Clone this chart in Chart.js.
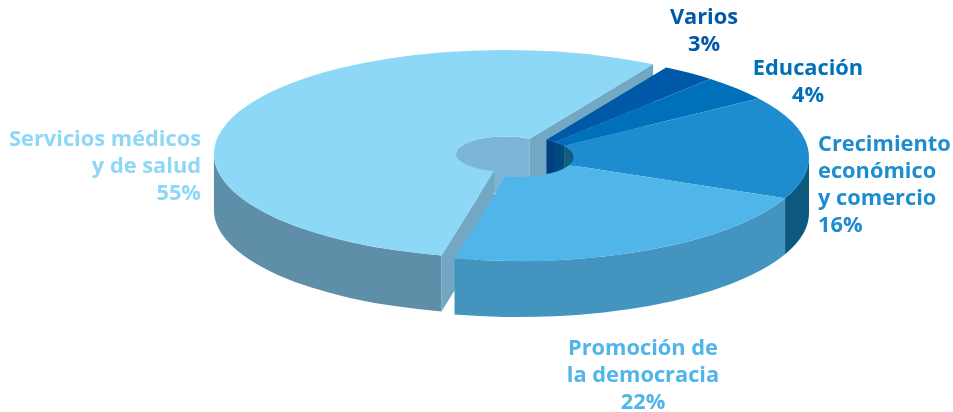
<!DOCTYPE html>
<html lang="es">
<head>
<meta charset="utf-8">
<title>Distribución por sector</title>
<style>
  html, body { margin: 0; padding: 0; background: #ffffff; }
  canvas { display: block; }
</style>
<script src="https://cdn.jsdelivr.net/npm/chart.js@4"></script>
</head>
<body>
<canvas id="pie" width="953" height="412"></canvas>
<script>
// Sector shares, clockwise from the top right of the pie
const categories = ['Varios', 'Educación', 'Crecimiento económico y comercio', 'Promoción de la democracia', 'Servicios médicos y de salud'];
const shares = [3, 4, 16, 22, 55];

// Wrapped label lines for each sector
const labelLines = [
  ['Varios'],
  ['Educación'],
  ['Crecimiento', 'económico', 'y comercio'],
  ['Promoción de', 'la democracia'],
  ['Servicios médicos', 'y de salud']
];

// Surface colours
const topColors = ['#0059a8', '#0070ba', '#1d8dd0', '#50b5e9', '#8dd7f7'];
const outerWallColors = ['#003f80', '#004f88', '#0d587f', '#4394bf', '#5f8fa8'];
const innerWallColors = ['#003f80', '#004a80', '#0f5d85', '#3f8fb8', '#7bb6d6'];
const cutFaceColor = '#72a8c3';

// Projection of the flat circle onto the tilted disc
const centerX = 518;
const centerY = 157;
const radiusX = 291;
const radiusY = 104;
const depth = 56;
const startRotation = 30.6;
const holeCutout = '19.2%';

// The large sector is pulled away from the rest, as a fraction of the radius,
// and its side of the central hole is slightly tighter
const pulledIndex = 4;
const pullX = -0.045;
const pullY = -0.03;
const pulledHoleScale = 0.875;

// Label anchors: x, first baseline, alignment
const labelAnchors = [
  { x: 704, y: 24, align: 'center' },
  { x: 808, y: 75, align: 'center' },
  { x: 818, y: 151, align: 'left' },
  { x: 643, y: 355, align: 'center' },
  { x: 201, y: 146, align: 'right' }
];
const lineHeight = 27;
const labelFont = 'bold 21.8px "Open Sans"';

function scaleFactors(el) {
  return { sx: radiusX / el.outerRadius, sy: radiusY / el.outerRadius };
}

// Clips the angular span of a sector to a window, trying whole turns
function clipSpan(start, end, from, to) {
  for (const turn of [-2, -1, 0, 1, 2]) {
    const a = Math.max(start, from + turn * 2 * Math.PI);
    const b = Math.min(end, to + turn * 2 * Math.PI);
    if (b > a) return [a, b];
  }
  return null;
}

function curvedWall(ctx, el, radius, span, drop, color) {
  if (!span) return;
  ctx.beginPath();
  ctx.arc(el.x, el.y, radius, span[0], span[1]);
  ctx.arc(el.x, el.y + drop, radius, span[1], span[0], true);
  ctx.closePath();
  ctx.fillStyle = color;
  ctx.fill();
}

function cutFace(ctx, el, angle, drop, color) {
  const c = Math.cos(angle), s = Math.sin(angle);
  ctx.beginPath();
  ctx.moveTo(el.x + c * el.innerRadius, el.y + s * el.innerRadius);
  ctx.lineTo(el.x + c * el.outerRadius, el.y + s * el.outerRadius);
  ctx.lineTo(el.x + c * el.outerRadius, el.y + s * el.outerRadius + drop);
  ctx.lineTo(el.x + c * el.innerRadius, el.y + s * el.innerRadius + drop);
  ctx.closePath();
  ctx.fillStyle = color;
  ctx.fill();
}

const tiltedDisc = {
  id: 'tiltedDisc',
  afterDatasetsUpdate(chart) {
    const arcs = chart.getDatasetMeta(0).data;
    const el = arcs[pulledIndex];
    el.x += pullX * el.outerRadius;
    el.y += pullY * el.outerRadius;
    el.innerRadius *= pulledHoleScale;
  },
  beforeDatasetsDraw(chart) {
    const ctx = chart.ctx;
    const arcs = chart.getDatasetMeta(0).data;
    const base = arcs[0];
    const { sx, sy } = scaleFactors(base);
    const pivotX = (chart.chartArea.left + chart.chartArea.right) / 2;
    const pivotY = (chart.chartArea.top + chart.chartArea.bottom) / 2;
    ctx.save();
    ctx.translate(centerX, centerY);
    ctx.scale(sx, sy);
    ctx.translate(-pivotX, -pivotY);

    // Side walls go down first, back to front; the flat tops cover what is hidden
    const drop = depth / sy;
    const order = [pulledIndex, 0, 1, 2, 3];
    for (const i of order) {
      const el = arcs[i];
      curvedWall(ctx, el, el.innerRadius, clipSpan(el.startAngle, el.endAngle, -Math.PI, 0), drop, innerWallColors[i]);
      if (i === pulledIndex) {
        cutFace(ctx, el, el.startAngle, drop, cutFaceColor);
        cutFace(ctx, el, el.endAngle, drop, cutFaceColor);
      }
      curvedWall(ctx, el, el.outerRadius, clipSpan(el.startAngle, el.endAngle, 0, Math.PI), drop, outerWallColors[i]);
    }
  },
  afterDatasetsDraw(chart) {
    chart.ctx.restore();
  },
  afterDraw(chart) {
    const ctx = chart.ctx;
    ctx.save();
    ctx.font = labelFont;
    ctx.textBaseline = 'alphabetic';
    categories.forEach((name, i) => {
      const anchor = labelAnchors[i];
      ctx.textAlign = anchor.align;
      ctx.fillStyle = topColors[i];
      const lines = labelLines[i].concat(shares[i] + '%');
      lines.forEach((line, k) => ctx.fillText(line, anchor.x, anchor.y + k * lineHeight));
    });
    ctx.restore();
  }
};

new Chart(document.getElementById('pie'), {
  type: 'doughnut',
  data: {
    labels: categories,
    datasets: [{
      data: shares,
      backgroundColor: topColors,
      borderWidth: 0,
      clip: false
    }]
  },
  options: {
    responsive: false,
    animation: false,
    cutout: holeCutout,
    rotation: startRotation,
    events: [],
    layout: { padding: 0 },
    plugins: { legend: { display: false }, tooltip: { enabled: false } }
  },
  plugins: [tiltedDisc]
});
</script>
</body>
</html>
